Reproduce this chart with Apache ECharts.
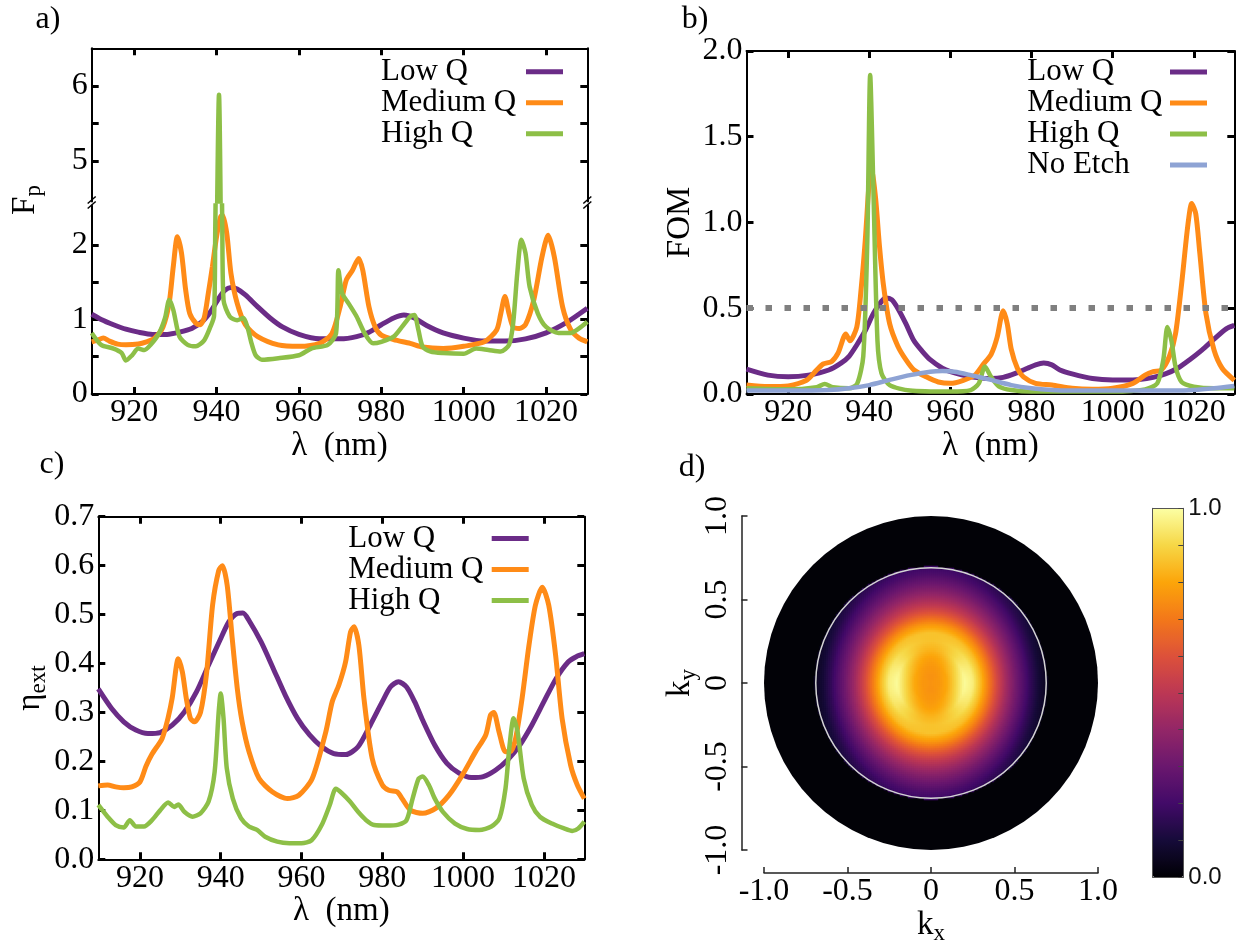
<!DOCTYPE html>
<html>
<head>
<meta charset="utf-8">
<script src="https://cdn.jsdelivr.net/npm/echarts@6/dist/echarts.min.js"></script>
<style>
html, body { margin: 0; background: #fff; }
#main { width: 1243px; height: 941px; }
</style>
</head>
<body>
<div id="main"></div>
<script>
// shared wavelength axis (nm)
const lambdaTicks = [920, 940, 960, 980, 1000, 1020];
const lambdaMin = 909.7;
const lambdaMax = 1030;

// a) Purcell factor Fp
const fpLowQ = [[909.7,1.07],[912,1.0],[915,0.93],[918,0.87],[921,0.83],[924.5,0.80],[928,0.80],[931,0.83],[934,0.88],[936.5,0.97],[938.5,1.10],[940.5,1.28],[942,1.39],[943.5,1.43],[945,1.41],[947,1.33],[950,1.17],[953,1.02],[956,0.9],[960,0.8],[965,0.74],[970,0.74],[974,0.77],[977,0.83],[980,0.93],[983,1.02],[985.5,1.06],[988,1.02],[991,0.92],[995,0.82],[1000,0.75],[1005,0.71],[1010,0.71],[1015,0.74],[1020,0.82],[1025,0.96],[1030,1.15]];
const fpMedQ = [[909.7,0.70],[911,0.72],[912.5,0.75],[914,0.71],[916,0.67],[918,0.66],[921,0.67],[923,0.70],[925,0.75],[927,0.90],[928.5,1.22],[929.5,1.71],[930.5,2.11],[931.5,1.89],[932.5,1.40],[933.5,1.08],[935,0.95],[936,0.93],[937,1.02],[938,1.35],[939,1.71],[940,2.11],[941,2.38],[941.5,2.40],[942.5,2.15],[943.5,1.62],[945,1.22],[947,0.93],[950,0.77],[955,0.66],[960,0.64],[965,0.68],[968,0.81],[970,1.17],[971.5,1.53],[973,1.66],[974.5,1.82],[975.5,1.66],[977,1.17],[978.5,0.90],[980,0.79],[983,0.73],[987,0.68],[990,0.63],[995,0.61],[1000,0.64],[1005,0.70],[1008,0.86],[1009,1.08],[1010,1.31],[1011,1.08],[1012,0.90],[1013.5,0.88],[1015,0.93],[1017,1.26],[1019,1.84],[1020.5,2.13],[1022,1.84],[1024,1.17],[1026,0.86],[1028,0.75],[1030,0.70]];
const fpHighQ = [[909.7,0.82],[912,0.66],[915,0.61],[917,0.55],[918,0.45],[919.5,0.52],[921,0.61],[922.5,0.59],[924,0.66],[926,0.81],[927.5,1.02],[928.5,1.26],[929.5,1.13],[931,0.77],[933,0.66],[935,0.64],[937,0.72],[938.5,0.90],[939.4,1.05],[939.7,2.25],[940.6,5.88],[941.4,2.25],[941.7,1.26],[943.2,1.04],[945,0.99],[946.5,1.02],[947.5,0.90],[948.5,0.68],[949.5,0.52],[951,0.46],[955,0.48],[960,0.52],[963,0.61],[967,0.66],[969,0.81],[969.6,1.66],[970.5,1.35],[972,1.22],[974,1.04],[976,0.81],[978,0.68],[980,0.70],[983,0.77],[985,0.90],[987,1.04],[988,1.06],[989,0.86],[990,0.64],[992,0.57],[995,0.55],[1000,0.54],[1003,0.61],[1006,0.59],[1009,0.57],[1011,0.66],[1012,0.95],[1013,1.62],[1014,2.07],[1015,1.89],[1016,1.44],[1018,1.08],[1020,0.90],[1023,0.82],[1026,0.82],[1028,0.88],[1030,0.97]];

// b) figure of merit
const fomLowQ = [[909.7,0.145],[915,0.11],[920,0.10],[925,0.11],[930,0.14],[933,0.18],[935,0.22],[937,0.29],[939,0.37],[941,0.47],[943,0.54],[944,0.56],[945.5,0.55],[947,0.50],[949,0.41],[951,0.31],[953,0.25],[955,0.20],[958,0.15],[960,0.13],[963,0.11],[966,0.097],[970,0.09],[973,0.097],[976,0.12],[979,0.15],[981,0.17],[983,0.18],[985,0.17],[987,0.14],[990,0.117],[995,0.09],[1000,0.082],[1005,0.082],[1010,0.097],[1013,0.117],[1016,0.15],[1019,0.20],[1022,0.256],[1025,0.32],[1028,0.38],[1030,0.40]];
const fomMedQ = [[909.7,0.052],[915,0.043],[920,0.047],[924.5,0.08],[927,0.14],[928.6,0.175],[930.7,0.19],[932.3,0.24],[934.2,0.35],[935.2,0.31],[936.9,0.39],[938,0.62],[939,0.90],[940,1.25],[940.5,1.31],[941.5,1.15],[942.5,0.86],[943.5,0.63],[945,0.41],[947,0.28],[949,0.20],[951,0.14],[954,0.10],[957,0.07],[960,0.062],[963,0.078],[966,0.11],[968,0.17],[970,0.23],[971.5,0.33],[972.5,0.45],[973,0.485],[974,0.41],[975,0.26],[976.5,0.15],[978,0.10],[981,0.062],[985,0.052],[990,0.033],[995,0.027],[1000,0.033],[1005,0.062],[1008,0.11],[1010,0.13],[1012,0.14],[1014,0.22],[1015.5,0.35],[1017,0.64],[1018.5,0.975],[1019.5,1.11],[1020.5,1.05],[1021.5,0.82],[1023,0.47],[1025,0.256],[1027,0.15],[1030,0.08]];
const fomHighQ = [[909.7,0.033],[920,0.027],[927,0.04],[929,0.058],[931,0.04],[935,0.033],[937,0.06],[938.5,0.22],[939.5,0.90],[940.2,1.86],[941,1.19],[942,0.31],[943,0.12],[945,0.052],[950,0.02],[960,0.014],[965,0.023],[967,0.062],[968.5,0.16],[970,0.10],[972,0.043],[975,0.023],[980,0.014],[1000,0.014],[1008,0.027],[1011,0.062],[1012.5,0.20],[1013.5,0.39],[1014.5,0.31],[1015.5,0.16],[1017,0.07],[1020,0.043],[1025,0.033],[1030,0.033]];
const fomNoEtch = [[909.7,0.02],[920,0.02],[930,0.023],[935,0.033],[940,0.052],[945,0.082],[950,0.11],[955,0.13],[958,0.134],[961,0.13],[965,0.11],[970,0.082],[975,0.052],[980,0.033],[985,0.023],[990,0.02],[1015,0.02],[1020,0.023],[1025,0.033],[1030,0.047]];
const fomThreshold = 0.5;

// c) extraction efficiency
const etaLowQ = [[909.7,0.348],[913,0.308],[916,0.281],[919,0.264],[922,0.257],[925,0.259],[928,0.274],[931,0.301],[934,0.342],[937,0.397],[940,0.451],[942,0.485],[944,0.502],[945.5,0.503],[947,0.488],[950,0.444],[953,0.39],[956,0.335],[959,0.288],[962,0.254],[965,0.23],[968,0.216],[971,0.214],[974,0.23],[977,0.274],[980,0.322],[982,0.352],[984,0.363],[986,0.352],[988,0.322],[990,0.284],[993,0.233],[996,0.196],[999,0.176],[1002,0.167],[1005,0.169],[1008,0.182],[1011,0.203],[1014,0.233],[1017,0.274],[1020,0.322],[1023,0.369],[1026,0.403],[1028,0.414],[1030,0.42]];
const etaMedQ = [[909.7,0.15],[912,0.152],[914,0.148],[916,0.146],[918,0.148],[920,0.158],[921.5,0.19],[923,0.215],[925.5,0.247],[927,0.29],[928,0.33],[929.5,0.41],[930.5,0.383],[931.5,0.328],[932.5,0.288],[933.5,0.281],[935,0.30],[936.5,0.38],[938,0.52],[939.5,0.59],[940.4,0.60],[941.6,0.56],[942.85,0.451],[944.1,0.349],[945.3,0.281],[947,0.22],[949.5,0.165],[952.75,0.138],[956.5,0.124],[959.35,0.131],[962.65,0.165],[966,0.26],[967.6,0.322],[969.25,0.356],[970.9,0.403],[972.15,0.465],[973,0.475],[974.2,0.437],[975.45,0.329],[977.5,0.206],[980,0.152],[981.6,0.141],[983.7,0.138],[984.9,0.124],[987,0.10],[990,0.094],[993.2,0.104],[996.5,0.131],[999.8,0.172],[1003.1,0.22],[1005.6,0.254],[1006.8,0.295],[1007.6,0.30],[1008.9,0.26],[1010.5,0.22],[1011.75,0.22],[1013,0.247],[1014.6,0.329],[1016.3,0.437],[1017.9,0.519],[1019.6,0.556],[1021.2,0.519],[1022.9,0.417],[1024.5,0.288],[1026.6,0.193],[1028.25,0.152],[1030,0.124]];
const etaHighQ = [[909.7,0.111],[912,0.087],[914,0.07],[916,0.065],[917.5,0.08],[919,0.067],[921,0.067],[923,0.08],[925,0.10],[927,0.116],[928.5,0.107],[929.5,0.112],[931,0.097],[933,0.087],[935,0.094],[937,0.118],[938.5,0.179],[939.5,0.301],[940,0.339],[940.7,0.288],[941.5,0.186],[943,0.124],[945,0.084],[947,0.067],[949,0.06],[951,0.046],[954,0.036],[957,0.033],[960,0.033],[962.5,0.039],[965,0.07],[967,0.111],[968.5,0.144],[970,0.135],[972,0.118],[974,0.097],[976,0.08],[978,0.07],[981,0.069],[984,0.071],[986,0.08],[987.5,0.124],[989,0.165],[990,0.169],[991.5,0.152],[993,0.124],[995,0.097],[998,0.073],[1001,0.062],[1004,0.06],[1007,0.067],[1009,0.084],[1010.5,0.145],[1011.5,0.233],[1012.5,0.288],[1013.5,0.26],[1015,0.165],[1017,0.111],[1019,0.087],[1022,0.073],[1025,0.063],[1027,0.058],[1028.5,0.063],[1030,0.077]];

// d) far field: intensity read along kx and ky cuts
const ffRadius  = [0, 0.05, 0.10, 0.15, 0.20, 0.25, 0.30, 0.35, 0.40, 0.45, 0.50, 0.55, 0.60, 0.65, 0.70];
const ffAlongKx = [0.76, 0.77, 0.81, 0.90, 0.99, 0.96, 0.84, 0.70, 0.56, 0.44, 0.34, 0.25, 0.16, 0.09, 0.05];
const ffAlongKy = [0.76, 0.76, 0.77, 0.79, 0.83, 0.86, 0.86, 0.77, 0.65, 0.54, 0.45, 0.37, 0.30, 0.23, 0.18];
const naRadius = 0.69;

const inferno = ['#000004', '#160b39', '#420a68', '#6a176e', '#932667', '#bc3754', '#dd513a', '#f37819', '#fca50a', '#f6d746', '#fcffa4'];
const cLow = '#6b2c87', cMed = '#ff8b17', cHigh = '#8dbf47', cNoEtch = '#8ea3d4';
const SERIF = 'Liberation Serif';

// heatmap table built from the two cuts (inside the collection cone)
const nCell = 167;
const cellIdx = Array.from({ length: nCell }, (_, i) => i);
function cut(prof, r) {
  const step = ffRadius[1] - ffRadius[0];
  const i = Math.min(Math.floor(r / step), ffRadius.length - 2);
  const t = Math.min((r - ffRadius[i]) / step, 1);
  return prof[i] * (1 - t) + prof[i + 1] * t;
}
const heatData = [];
for (let i = 0; i < nCell; i++) {
  for (let j = 0; j < nCell; j++) {
    const kx = -1 + (i + 0.5) * 2 / nCell;
    const ky = -1 + (j + 0.5) * 2 / nCell;
    const r = Math.hypot(kx, ky);
    if (r > naRadius + 0.006) continue;
    const w = r > 0 ? (ky * ky) / (r * r) : 0;
    heatData.push([i, j, (1 - w) * cut(ffAlongKx, r) + w * cut(ffAlongKy, r)]);
  }
}

const chart = echarts.init(document.getElementById('main'));

const frameLine = { show: true, onZero: false, lineStyle: { color: '#000', width: 2 } };
const tickIn = { show: true, inside: true, length: 7, lineStyle: { color: '#000', width: 3 } };
const tickFont = { fontFamily: SERIF, fontSize: 32, color: '#000' };
const subRich = {
  m: { fontFamily: SERIF, fontSize: 33, lineHeight: 34, verticalAlign: 'top', color: '#000' },
  s: { fontFamily: SERIF, fontSize: 23, lineHeight: 37, verticalAlign: 'bottom', color: '#000' }
};
const nameFont = { fontFamily: SERIF, fontSize: 33, color: '#000', rich: subRich };
const hidden = { show: false, axisLine: { show: false }, axisTick: { show: false }, axisLabel: { show: false }, splitLine: { show: false }, splitArea: { show: false } };

function lambdaAxis(gridIndex, position, labels) {
  return {
    type: 'value', gridIndex, position, min: lambdaMin, max: lambdaMax,
    axisLine: frameLine, splitLine: { show: false },
    axisTick: Object.assign({}, tickIn, { customValues: lambdaTicks }),
    axisLabel: labels ? Object.assign({}, tickFont, { margin: 3, customValues: lambdaTicks, formatter: v => String(v) }) : { show: false },
    name: labels ? 'λ  (nm)' : '', nameLocation: 'middle', nameGap: 30, nameTextStyle: nameFont
  };
}
function valueAxis(gridIndex, position, min, max, ticks, labels, fmt) {
  return {
    type: 'value', gridIndex, position, min, max,
    axisLine: frameLine, splitLine: { show: false },
    axisTick: Object.assign({}, tickIn, { customValues: ticks }),
    axisLabel: labels ? Object.assign({}, tickFont, { margin: 4, customValues: labels, formatter: fmt }) : { show: false }
  };
}
function curve(name, data, color, width, xi, yi) {
  return {
    type: 'line', name, data, xAxisIndex: xi, yAxisIndex: yi, color,
    showSymbol: false, symbol: 'none', smooth: 0.25, clip: true,
    lineStyle: { color, width }, silent: true
  };
}
function legendAt(left, top, names, textWidth, lineH) {
  return {
    orient: 'vertical', left, top, padding: 0, align: 'right', itemGap: 0,
    itemWidth: 37, itemHeight: 5, icon: 'rect', selectedMode: false, data: names,
    formatter: n => '{t|' + n + '}',
    textStyle: { rich: { t: { width: textWidth, align: 'left', fontFamily: SERIF, fontSize: 31, lineHeight: lineH, color: '#000' } } }
  };
}

const oneDec = v => v.toFixed(1);
const kFmt = v => (v === 0 ? '0' : v.toFixed(1));
const gridD = { left: 764, top: 516, width: 334, height: 334 };
const pxPerK = gridD.width / 2;
const dCenter = [gridD.left + gridD.width / 2, gridD.top + gridD.height / 2];
const panelFont = '32px "Liberation Serif"';
const dAxisLine = { show: true, onZero: false, lineStyle: { color: '#222', width: 1.5 } };
const dTick = { show: true, inside: true, length: 6, lineStyle: { color: '#222', width: 1.5 } };

const option = {
  animation: false,
  backgroundColor: '#fff',
  grid: [
    { left: 91.7, top: 48.3, width: 495.6, height: 153.2 },
    { left: 91.7, top: 205.5, width: 495.6, height: 188.5 },
    { left: 746.5, top: 50.9, width: 487.8, height: 343.1 },
    { left: 98.3, top: 516.7, width: 486, height: 342.6 },
    gridD,
    gridD,
    { left: 1152.7, top: 508.3, width: 30.6, height: 369 }
  ].map(g => Object.assign({ outerBoundsMode: 'none', containLabel: false }, g)),
  xAxis: [
    lambdaAxis(0, 'top', false),
    lambdaAxis(1, 'bottom', true),
    lambdaAxis(2, 'bottom', true),
    lambdaAxis(2, 'top', false),
    Object.assign(lambdaAxis(3, 'bottom', true), { nameGap: 28 }),
    lambdaAxis(3, 'top', false),
    Object.assign({ type: 'category', gridIndex: 4, data: cellIdx }, hidden),
    {
      type: 'value', gridIndex: 5, min: -1, max: 1, interval: 0.5, offset: 23,
      axisLine: dAxisLine, axisTick: dTick,
      axisLabel: Object.assign({}, tickFont, { margin: 3, formatter: kFmt }),
      splitLine: { show: false },
      name: '{m|k}{s|x}', nameLocation: 'middle', nameGap: 32, nameTextStyle: nameFont
    },
    { type: 'category', gridIndex: 6, z: 10, data: ['c'], axisLine: { show: true, onZero: false, lineStyle: { color: '#555', width: 1 } }, axisTick: { show: false }, axisLabel: { show: false } },
    { type: 'category', gridIndex: 6, position: 'top', z: 10, data: ['c'], axisLine: { show: true, onZero: false, lineStyle: { color: '#555', width: 1 } }, axisTick: { show: false }, axisLabel: { show: false } }
  ],
  yAxis: [
    valueAxis(0, 'left', 4.46, 6.5, [5, 5.5, 6], [5, 6], v => String(v)),
    valueAxis(0, 'right', 4.46, 6.5, [5, 5.5, 6], null),
    valueAxis(1, 'left', 0, 2.53, [0, 0.5, 1, 1.5, 2], [0, 1, 2], v => String(v)),
    valueAxis(1, 'right', 0, 2.53, [0, 0.5, 1, 1.5, 2], null),
    Object.assign(valueAxis(2, 'left', 0, 2, [0, 0.5, 1, 1.5, 2], [0, 0.5, 1, 1.5, 2], oneDec),
      { name: 'FOM', nameLocation: 'middle', nameRotate: 90, nameGap: 50, nameTextStyle: nameFont }),
    valueAxis(2, 'right', 0, 2, [0, 0.5, 1, 1.5, 2], null),
    Object.assign(valueAxis(3, 'left', 0, 0.7, [0, 0.1, 0.2, 0.3, 0.4, 0.5, 0.6, 0.7], [0, 0.1, 0.2, 0.3, 0.4, 0.5, 0.6, 0.7], oneDec),
      { name: '{m|η}{s|ext}', nameLocation: 'middle', nameRotate: 90, nameGap: 46, nameTextStyle: nameFont }),
    valueAxis(3, 'right', 0, 0.7, [0, 0.1, 0.2, 0.3, 0.4, 0.5, 0.6, 0.7], null),
    Object.assign({ type: 'category', gridIndex: 4, data: cellIdx }, hidden),
    {
      type: 'value', gridIndex: 5, min: -1, max: 1, interval: 0.5, offset: 22.5,
      axisLine: dAxisLine, axisTick: dTick,
      axisLabel: Object.assign({}, tickFont, { margin: 8, rotate: 90, formatter: kFmt }),
      splitLine: { show: false },
      name: '{m|k}{s|y}', nameLocation: 'middle', nameRotate: 90, nameGap: 30, nameTextStyle: nameFont
    },
    { type: 'value', gridIndex: 6, min: 0, max: 1, position: 'left', z: 10, axisLine: { show: true, onZero: false, lineStyle: { color: '#555', width: 1 } }, axisTick: { show: false }, axisLabel: { show: false }, splitLine: { show: false } },
    {
      type: 'value', gridIndex: 6, min: 0, max: 1, interval: 0.1, position: 'right', z: 10,
      axisLine: { show: true, onZero: false, lineStyle: { color: '#555', width: 1 } },
      axisTick: { show: true, inside: true, length: 5, lineStyle: { color: '#444', width: 1 } },
      axisLabel: { margin: 5, fontFamily: 'Liberation Sans', fontSize: 24, color: '#111', formatter: v => (v === 0 ? '0.0' : v === 1 ? '1.0' : '') },
      splitLine: { show: false }
    }
  ],
  polar: { center: dCenter, radius: naRadius * pxPerK },
  angleAxis: {
    type: 'value', min: 0, max: 360, z: 10,
    axisLine: { show: true, lineStyle: { color: '#d4d4d4', width: 1.5 } },
    axisTick: { show: false }, axisLabel: { show: false }, splitLine: { show: false }, splitArea: { show: false }
  },
  radiusAxis: { min: 0, max: naRadius, show: false, axisLine: { show: false }, axisTick: { show: false }, axisLabel: { show: false }, splitLine: { show: false }, splitArea: { show: false } },
  visualMap: {
    type: 'continuous', min: 0, max: 1, seriesIndex: 11, left: 1152.7, top: 508.3,
    itemWidth: 30.6, itemHeight: 369, padding: 0, text: null, calculable: false, hoverLink: false,
    inRange: { color: inferno }, z: 1
  },
  legend: [
    legendAt(381, 56.2, ['Low Q', 'Medium Q', 'High Q'], 140, 31),
    legendAt(1027.3, 56.5, ['Low Q', 'Medium Q', 'High Q', 'No Etch'], 137.7, 31.5),
    legendAt(348.3, 523, ['Low Q', 'Medium Q', 'High Q'], 138.4, 30.8)
  ],
  series: [
    curve('Low Q', fpLowQ, cLow, 5, 1, 2),
    curve('Medium Q', fpMedQ, cMed, 5, 1, 2),
    curve('High Q', fpHighQ, cHigh, 4.5, 1, 2),
    curve('High Q', fpHighQ, cHigh, 4.5, 0, 0),
    Object.assign(curve('Low Q', fomLowQ, cLow, 5, 2, 4), {
      markLine: {
        silent: true, symbol: ['none', 'none'], label: { show: false },
        lineStyle: { color: '#808080', width: 6, type: [6.5, 12.5], cap: 'butt' },
        data: [{ yAxis: fomThreshold }]
      }
    }),
    curve('Medium Q', fomMedQ, cMed, 5, 2, 4),
    curve('High Q', fomHighQ, cHigh, 4.5, 2, 4),
    curve('No Etch', fomNoEtch, cNoEtch, 4.5, 2, 4),
    curve('Low Q', etaLowQ, cLow, 5, 4, 6),
    curve('Medium Q', etaMedQ, cMed, 5, 4, 6),
    curve('High Q', etaHighQ, cHigh, 4.5, 4, 6),
    { type: 'heatmap', xAxisIndex: 6, yAxisIndex: 8, data: heatData, progressive: 0, silent: true, z: 3, emphasis: { disabled: true } }
  ],
  graphic: [
    // dark sky outside the collection cone (|k| <= 1)
    { type: 'circle', z: 1, silent: true, shape: { cx: dCenter[0], cy: dCenter[1], r: pxPerK }, style: { fill: '#020207', stroke: null } },
    { type: 'text', x: 48, y: 20, style: { text: 'a)', font: panelFont, fill: '#000', align: 'center', verticalAlign: 'middle' } },
    { type: 'text', x: 695, y: 20, style: { text: 'b)', font: panelFont, fill: '#000', align: 'center', verticalAlign: 'middle' } },
    { type: 'text', x: 52, y: 465, style: { text: 'c)', font: panelFont, fill: '#000', align: 'center', verticalAlign: 'middle' } },
    { type: 'text', x: 692, y: 468, style: { text: 'd)', font: panelFont, fill: '#000', align: 'center', verticalAlign: 'middle' } },
    {
      type: 'text', x: 27, y: 200, rotation: Math.PI / 2,
      style: { text: '{m|F}{s|p}', rich: subRich, align: 'center', verticalAlign: 'middle' }
    },
    // axis break marks
    { type: 'line', shape: { x1: 87.7, y1: 203.5, x2: 95.7, y2: 196.5 }, style: { stroke: '#000', lineWidth: 1.5 } },
    { type: 'line', shape: { x1: 87.7, y1: 208.5, x2: 95.7, y2: 201.5 }, style: { stroke: '#000', lineWidth: 1.5 } },
    { type: 'line', shape: { x1: 583.3, y1: 203.5, x2: 591.3, y2: 196.5 }, style: { stroke: '#000', lineWidth: 1.5 } },
    { type: 'line', shape: { x1: 583.3, y1: 208.5, x2: 591.3, y2: 201.5 }, style: { stroke: '#000', lineWidth: 1.5 } }
  ]
};

chart.setOption(option);
</script>
</body>
</html>
